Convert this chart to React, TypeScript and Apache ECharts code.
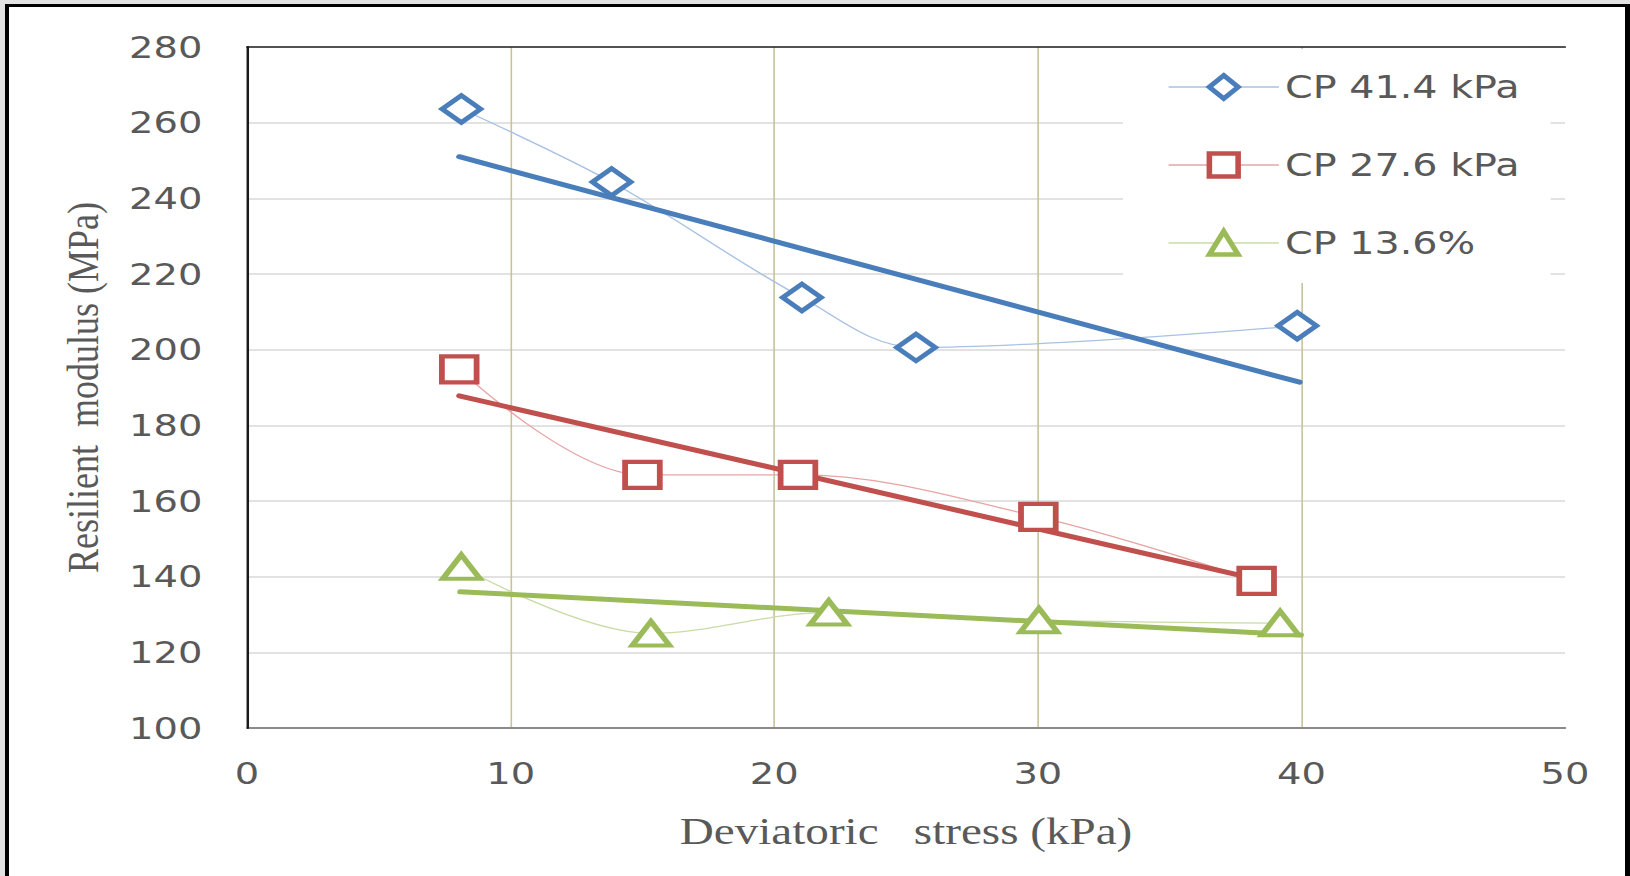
import { useEffect, useRef } from "react";
import * as echarts from "echarts";

// ---- data ----
const seriesNames = ["CP 41.4 kPa", "CP 27.6 kPa", "CP 13.6%"];

const cp414X = [8.13, 13.83, 21.05, 25.38, 39.84];
const cp414Y = [263.6, 244.3, 213.8, 200.6, 206.3];
const cp276X = [8.05, 15.0, 20.9, 30.02, 38.3];
const cp276Y = [194.8, 166.9, 166.9, 155.8, 138.9];
const cp136X = [8.13, 15.32, 22.07, 30.04, 39.19];
const cp136Y = [142.6, 125.0, 130.5, 128.5, 127.7];

// linear trend lines (two end points each)
const trend414X = [8.05, 39.93];
const trend414Y = [251.0, 191.4];
const trend276X = [8.05, 38.38];
const trend276Y = [187.8, 139.2];
const trend136X = [8.09, 39.98];
const trend136Y = [136.0, 124.6];

const xAxisRange = [0, 50];
const xTickStep = 10;
const yAxisRange = [100, 280];
const yTickStep = 20;

const xTitle = "Deviatoric   stress (kPa)";
const yTitle = "Resilient  modulus (MPa)";

// ---- styling ----
const BLUE = "#4a7ebb";
const RED = "#c0504d";
const GREEN = "#9bbb59";
const LBLUE = "#a9c1e3";
const LRED = "#e6a5a4";
const LGREEN = "#c8dca8";
const TXT = "#595959";

const INNER_W = 1315;
const SX = 1630 / INNER_W;

const pairs = (xs: number[], ys: number[]) => xs.map((x, i) => [x, ys[i]]);

export default function App() {
  const ref = useRef<HTMLDivElement>(null);

  useEffect(() => {
    document.body.style.margin = "0";
    if (!ref.current) return;
    const chart = echarts.init(ref.current, null, { renderer: "svg" });

    const dataSeries = (
      name: string,
      xs: number[],
      ys: number[],
      symbol: string,
      symbolSize: number[],
      color: string,
      light: string
    ) => ({
      name,
      type: "line",
      data: pairs(xs, ys),
      smooth: 0.35,
      symbol,
      symbolSize,
      itemStyle: { color: "#fff", borderColor: color, borderWidth: 4.5 },
      lineStyle: { color: light, width: 1.3 },
      emphasis: { disabled: true },
    });

    const trendSeries = (id: string, xs: number[], ys: number[], color: string) => ({
      name: id,
      type: "line",
      data: pairs(xs, ys),
      symbol: "none",
      lineStyle: { color, width: 5, cap: "round" },
      silent: true,
      emphasis: { disabled: true },
    });

    const legendItem = (name: string, color: string, light: string) => ({
      name,
      itemStyle: { color: "#fff", borderColor: color, borderWidth: 4.5 },
      lineStyle: { color: light, width: 1.5 },
    });

    const option = {
      animation: false,
      backgroundColor: "transparent",
      grid: { left: 199.3, right: 52.4, top: 47, bottom: 148 },
      legend: {
        orient: "vertical",
        left: 906,
        top: 49,
        itemWidth: 89,
        itemHeight: 29,
        itemGap: 46,
        padding: [22, 25, 24, 36],
        backgroundColor: "#ffffff",
        textStyle: { fontFamily: "DejaVu Sans", fontSize: 32, color: TXT },
        data: [
          legendItem(seriesNames[0], BLUE, LBLUE),
          legendItem(seriesNames[1], RED, LRED),
          legendItem(seriesNames[2], GREEN, LGREEN),
        ],
      },
      xAxis: [
        {
          type: "value",
          min: xAxisRange[0],
          max: xAxisRange[1],
          interval: xTickStep,
          position: "bottom",
          name: xTitle,
          nameLocation: "middle",
          nameGap: 84,
          nameTextStyle: { fontFamily: "Liberation Serif", fontSize: 38, color: TXT },
          axisLine: { show: true, lineStyle: { color: "#8a8a8a", width: 2 } },
          axisTick: { show: false },
          axisLabel: { fontFamily: "DejaVu Sans", fontSize: 31, color: TXT, margin: 30 },
          splitLine: {
            show: true,
            showMinLine: false,
            showMaxLine: false,
            lineStyle: { color: "#c9c29c", width: 1.3 },
          },
        },
        {
          type: "value",
          min: xAxisRange[0],
          max: xAxisRange[1],
          position: "top",
          z: 5,
          axisLine: { show: true, lineStyle: { color: "#1a1a1a", width: 1.7 } },
          axisTick: { show: false },
          axisLabel: { show: false },
          splitLine: { show: false },
        },
      ],
      yAxis: [
        {
          type: "value",
          min: yAxisRange[0],
          max: yAxisRange[1],
          interval: yTickStep,
          position: "left",
          name: yTitle,
          nameLocation: "middle",
          nameGap: 114,
          nameTextStyle: { fontFamily: "Liberation Serif", fontSize: 36, color: TXT },
          axisLine: { show: true, lineStyle: { color: "#8a8a8a", width: 1.4 } },
          axisTick: { show: false },
          axisLabel: { fontFamily: "DejaVu Sans", fontSize: 31, color: TXT, margin: 36 },
          splitLine: {
            show: true,
            showMinLine: false,
            showMaxLine: false,
            lineStyle: { color: "#d9d9d9", width: 1.5 },
          },
        },
        {
          type: "value",
          min: yAxisRange[0],
          max: yAxisRange[1],
          position: "right",
          z: 5,
          axisLine: { show: true, lineStyle: { color: "#1a1a1a", width: 1.8 } },
          axisTick: { show: false },
          axisLabel: { show: false },
          splitLine: { show: false },
        },
      ],
      series: [
        dataSeries(seriesNames[0], cp414X, cp414Y, "diamond", [31, 27], BLUE, LBLUE),
        dataSeries(seriesNames[1], cp276X, cp276Y, "rect", [28, 26], RED, LRED),
        dataSeries(seriesNames[2], cp136X, cp136Y, "triangle", [30, 24], GREEN, LGREEN),
        trendSeries("trend 41.4", trend414X, trend414Y, BLUE),
        trendSeries("trend 27.6", trend276X, trend276Y, RED),
        trendSeries("trend 13.6", trend136X, trend136Y, GREEN),
      ],
    };

    chart.setOption(option as any);
    return () => chart.dispose();
  }, []);

  return (
    <div
      style={{
        position: "fixed",
        left: 0,
        top: 0,
        width: 1630,
        height: 876,
        background: "#e2e2e2",
        overflow: "hidden",
      }}
    >
      <div
        style={{
          position: "absolute",
          left: 5,
          top: 4,
          width: 1625,
          height: 900,
          boxSizing: "border-box",
          borderLeft: "4.5px solid #000",
          borderTop: "3.3px solid #000",
          borderRight: "5px solid #000",
          background: "#ffffff",
        }}
      />
      <div
        ref={ref}
        style={{
          position: "absolute",
          left: 0,
          top: 0,
          width: INNER_W,
          height: 876,
          transform: `scaleX(${SX})`,
          transformOrigin: "0 0",
        }}
      />
    </div>
  );
}
